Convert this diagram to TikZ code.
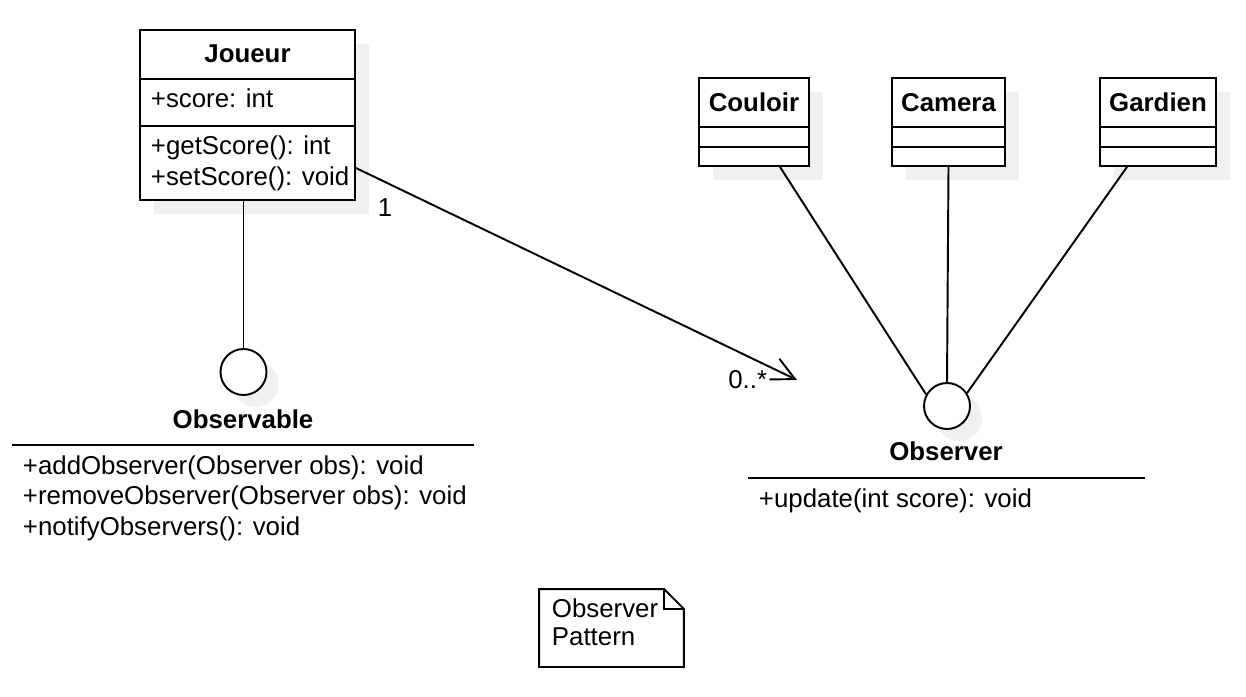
\documentclass[tikz,border=0pt]{standalone}
\usepackage{fontspec}
\setmainfont{Liberation Sans}
\usetikzlibrary{calc, positioning, arrows.meta, shadows}

\begin{document}
\begin{tikzpicture}[x=0.02cm, y=-0.02cm, line width=1.1pt, every node/.style={font=\fontsize{14.7}{17.1}\selectfont, inner sep=0pt}]
  \tikzset{classbox/.style={draw, fill=white, general shadow={fill=black!6, shadow xshift=0.28cm, shadow yshift=-0.28cm}},
    lolli/.style={draw, circle, fill=white, minimum size=0.92cm, general shadow={fill=black!6, shadow xshift=0.24cm, shadow yshift=-0.24cm}},
    classname/.style={anchor=base, font=\fontsize{14.7}{17.1}\selectfont\bfseries},
    member/.style={anchor=base west, align=left}}
  \useasboundingbox (0,0) rectangle (1246,696);

  % Subject class
  \node[classbox, minimum width=4.3cm, minimum height=3.4cm] (joueur) at (247.5,115) {};
  \draw ([yshift=-1cm]joueur.north west) -- ([yshift=-1cm]joueur.north east);
  \draw ([yshift=-1.94cm]joueur.north west) -- ([yshift=-1.94cm]joueur.north east);
  \node[classname] (joueurname) at (247.5,63) {Joueur};
  \node[member] (joueurattr) at (150,108) {+score: int};
  \node[member] (joueurops) at (150,185) {+getScore(): int\\+setScore(): void};

  % Concrete observers
  \node[classbox, minimum width=2.2cm, minimum height=1.76cm] (couloir) at (754,122) {};
  \draw ([yshift=-1cm]couloir.north west) -- ([yshift=-1cm]couloir.north east);
  \draw ([yshift=-1.4cm]couloir.north west) -- ([yshift=-1.4cm]couloir.north east);
  \node[classname] (couloirname) at (754,112) {Couloir};

  \node[classbox, minimum width=2.26cm, minimum height=1.76cm] (camera) at (948.5,122) {};
  \draw ([yshift=-1cm]camera.north west) -- ([yshift=-1cm]camera.north east);
  \draw ([yshift=-1.4cm]camera.north west) -- ([yshift=-1.4cm]camera.north east);
  \node[classname] (cameraname) at (948.5,112) {Camera};

  \node[classbox, minimum width=2.32cm, minimum height=1.76cm] (gardien) at (1158,122) {};
  \draw ([yshift=-1cm]gardien.north west) -- ([yshift=-1cm]gardien.north east);
  \draw ([yshift=-1.4cm]gardien.north west) -- ([yshift=-1.4cm]gardien.north east);
  \node[classname] (gardienname) at (1158,112) {Gardien};

  % Interfaces (lollipop + operations)
  \node[lolli] (observable) at (243.5,372) {};
  \node[classname] (observablename) at (243,428) {Observable};
  \draw (12,445) -- (474,445);
  \node[member] (observableops) at (22,535) {+addObserver(Observer obs): void\\+removeObserver(Observer obs): void\\+notifyObservers(): void};

  \node[lolli] (observer) at (947,406) {};
  \node[classname] (observername) at (946,460) {Observer};
  \draw (748,478) -- (1145,478);
  \node[member] (observerops) at (758,507) {+update(int score): void};

  \draw (observable.north |- joueur.south) -- (observable.north);
  \draw ([xshift=0.52cm]couloir.south) -- (observer.151);
  \draw (camera.south) -- (observer.north);
  \draw ([xshift=-0.62cm]gardien.south) -- (observer.33);

  % Association with multiplicities
  \coordinate (assocend) at (797,380);
  \draw[-{Straight Barb[length=0.46cm, width=0.46cm]}] ($(joueur.east)+(0,53)$) -- (assocend);
  \node[anchor=base] (multone) at (385,216) {1};
  \node[anchor=base east] (multmany) at (768,388) {0..*};

  % Note
  \node[minimum width=2.86cm, minimum height=1.52cm] (note) at (611.5,628) {};
  \draw (note.north west) -- ([xshift=-0.4cm]note.north east) -- ([yshift=-0.4cm]note.north east) -- (note.south east) -- (note.south west) -- cycle;
  \draw ([xshift=-0.4cm]note.north east) |- ([yshift=-0.4cm]note.north east);
  \node[member, font=\fontsize{14.7}{15.4}\selectfont] (notetext) at (551,645) {Observer\\Pattern};
\end{tikzpicture}
\end{document}
